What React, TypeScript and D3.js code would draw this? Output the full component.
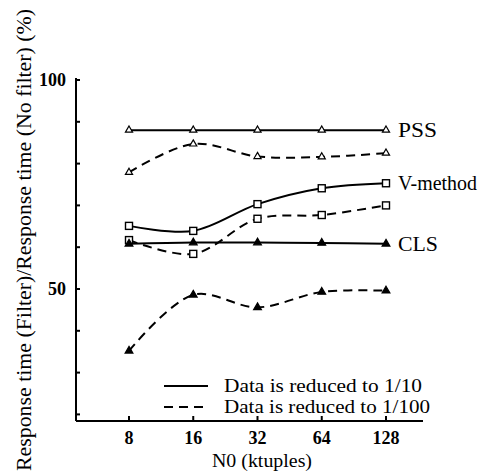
import * as d3 from "d3";

const sizes = [8, 16, 32, 64, 128];
const pssSolid = [88, 88, 88, 88, 88];
const pssDashed = [77.9, 84.7, 81.7, 81.6, 82.5];
const vSolid = [65.1, 63.9, 70.3, 74.1, 75.3];
const vDashed = [61.7, 58.4, 66.8, 67.7, 70.0];
const clsSolid = [60.8, 61.1, 61.1, 61.0, 60.8];
const clsDashed = [35.2, 48.6, 45.6, 49.3, 49.6];
const yTicks = [100, 90, 80, 70, 60, 50, 40, 30, 20];
const yLabelled = [100, 50];

const W = 479;
const H = 472;
const FONT = "Liberation Serif, Times New Roman, Times, serif";

type Series = { values: number[]; dashed: boolean; marker: "tri" | "triFill" | "sq" };

const series: Series[] = [
  { values: pssSolid, dashed: false, marker: "tri" },
  { values: pssDashed, dashed: true, marker: "tri" },
  { values: vSolid, dashed: false, marker: "sq" },
  { values: vDashed, dashed: true, marker: "sq" },
  { values: clsSolid, dashed: false, marker: "triFill" },
  { values: clsDashed, dashed: true, marker: "triFill" },
];

// series name labels at the right end of the solid curves
const seriesLabels = [
  { text: "PSS", value: pssSolid[4], len: 39 },
  { text: "V-method", value: vSolid[4], len: 79 },
  { text: "CLS", value: clsSolid[4], len: 40 },
];

const App = () => {
  const x = d3.scaleLog().base(2).domain([8, 128]).range([129, 386]);
  const y = d3.scaleLinear().domain([50, 100]).range([289, 80]);
  const axisX = 76;
  const axisY = 421;

  const line = d3
    .line<number>()
    .x((_, i) => x(sizes[i]))
    .y((d) => y(d))
    .curve(d3.curveCatmullRom.alpha(0.5));

  const marker = (kind: string, cx: number, cy: number, key: string) => {
    if (kind === "sq") {
      return <rect key={key} x={cx - 3.5} y={cy - 3.5} width={7} height={7} fill="white" stroke="black" strokeWidth={1.4} />;
    }
    const tri = d3.symbol().type(d3.symbolTriangle).size(kind === "tri" ? 22 : 26)();
    return (
      <path
        key={key}
        d={tri || ""}
        transform={`translate(${cx},${cy})`}
        fill={kind === "tri" ? "white" : "black"}
        stroke="black"
        strokeWidth={1.2}
      />
    );
  };

  return (
    <svg width={W} height={H} style={{ position: "absolute", left: 0, top: 0, background: "white", fontFamily: FONT }}>
      {/* y axis label */}
      <text
        transform={`translate(31, 240) rotate(-90)`}
        textAnchor="middle"
        fontSize={20}
        textLength={462}
        lengthAdjust="spacingAndGlyphs"
      >
        Response time (Filter)/Response time (No filter) (%)
      </text>

      {/* axes */}
      <line x1={axisX} y1={78} x2={axisX} y2={axisY} stroke="black" strokeWidth={2} />
      <line x1={axisX} y1={axisY} x2={423} y2={axisY} stroke="black" strokeWidth={2} />
      {yTicks.map((t) => (
        <line key={t} x1={axisX} x2={axisX + 4} y1={y(t)} y2={y(t)} stroke="black" strokeWidth={2} />
      ))}
      {yLabelled.map((t) => (
        <text key={t} x={axisX - 10} y={y(t)} textAnchor="end" dominantBaseline="central" fontSize={18} fontWeight="bold">
          {t}
        </text>
      ))}
      {sizes.map((s) => (
        <g key={s}>
          <line x1={x(s)} x2={x(s)} y1={axisY} y2={axisY - 5} stroke="black" strokeWidth={2} />
          <text x={x(s)} y={438} textAnchor="middle" dominantBaseline="central" fontSize={18} fontWeight="bold">
            {s}
          </text>
        </g>
      ))}
      <text x={262} y={461} textAnchor="middle" dominantBaseline="central" fontSize={18} textLength={100} lengthAdjust="spacingAndGlyphs">
        N0 (ktuples)
      </text>

      {/* series */}
      {series.map((s, si) => (
        <g key={si}>
          <path
            d={line(s.values) || ""}
            fill="none"
            stroke="black"
            strokeWidth={2}
            strokeDasharray={s.dashed ? "9 6" : undefined}
          />
          {s.values.map((v, i) => marker(s.marker, x(sizes[i]), y(v), `${si}-${i}`))}
        </g>
      ))}

      {/* series labels */}
      {seriesLabels.map((l) => (
        <text key={l.text} x={398} y={y(l.value)} dominantBaseline="central" fontSize={20} textLength={l.len} lengthAdjust="spacingAndGlyphs">
          {l.text}
        </text>
      ))}

      {/* legend */}
      <line x1={164} x2={208} y1={386} y2={386} stroke="black" strokeWidth={2} />
      <text x={224} y={386} dominantBaseline="central" fontSize={18} textLength={198} lengthAdjust="spacingAndGlyphs">
        Data is reduced to 1/10
      </text>
      <line x1={164} x2={208} y1={407} y2={407} stroke="black" strokeWidth={2} strokeDasharray="9 6" />
      <text x={224} y={407} dominantBaseline="central" fontSize={18} textLength={206} lengthAdjust="spacingAndGlyphs">
        Data is reduced to 1/100
      </text>
    </svg>
  );
};

export default App;
